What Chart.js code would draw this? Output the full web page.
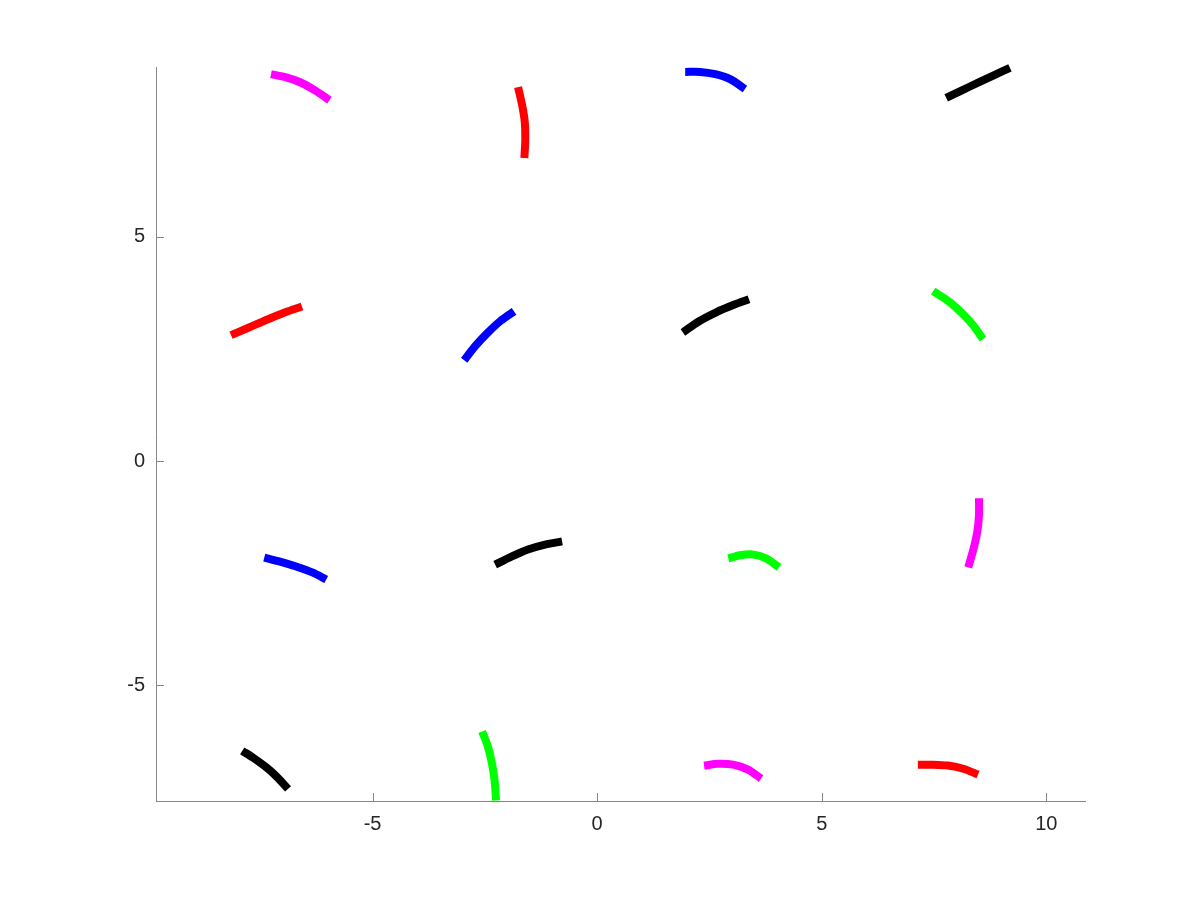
<!DOCTYPE html>
<html lang="en">
<head>
    <meta charset="UTF-8">
    <title>Arcs</title>
    <style>
        body {
            margin: 0;
            background-color: #ffffff;
        }
        .chart-wrapper {
            width: 1200px;
            height: 900px;
        }
    </style>
</head>
<body>
    <div class="chart-wrapper">
        <canvas id="arcChart" width="1200" height="900"></canvas>
    </div>

    <script src="https://cdn.jsdelivr.net/npm/chart.js"></script>
    <script>
        // Arc colours, one per curve
        const arcColors = [
            '#ff00ff', '#ff0000', '#0000ff', '#000000',
            '#ff0000', '#0000ff', '#000000', '#00ff00',
            '#0000ff', '#000000', '#00ff00', '#ff00ff',
            '#000000', '#00ff00', '#ff00ff', '#ff0000'
        ];

        // x values of the points along each arc
        const arcX = [
            [-7.26, -6.92, -6.61, -6.28, -5.96],
            [-1.76, -1.67, -1.61, -1.60, -1.62],
            [1.96, 2.29, 2.63, 2.96, 3.29],
            [7.77, 8.12, 8.48, 8.84, 9.19],
            [-8.15, -7.75, -7.34, -6.94, -6.57],
            [-2.96, -2.72, -2.45, -2.16, -1.85],
            [1.91, 2.27, 2.65, 3.03, 3.38],
            [7.48, 7.83, 8.12, 8.37, 8.59],
            [-7.41, -7.06, -6.70, -6.34, -6.03],
            [-2.27, -1.91, -1.54, -1.16, -0.78],
            [2.92, 3.18, 3.45, 3.76, 4.05],
            [8.50, 8.50, 8.46, 8.37, 8.26],
            [-7.90, -7.65, -7.39, -7.13, -6.88],
            [-2.56, -2.43, -2.34, -2.28, -2.25],
            [2.38, 2.69, 3.03, 3.36, 3.65],
            [7.14, 7.48, 7.81, 8.15, 8.48]
        ];

        // y values of the points along each arc
        const arcY = [
            [8.63, 8.56, 8.45, 8.27, 8.05],
            [8.34, 7.94, 7.55, 7.15, 6.76],
            [8.68, 8.68, 8.63, 8.52, 8.30],
            [8.10, 8.27, 8.44, 8.61, 8.77],
            [2.81, 2.98, 3.16, 3.32, 3.45],
            [2.25, 2.56, 2.85, 3.12, 3.34],
            [2.87, 3.12, 3.32, 3.48, 3.61],
            [3.79, 3.56, 3.30, 3.03, 2.72],
            [-2.15, -2.24, -2.35, -2.48, -2.64],
            [-2.31, -2.13, -1.97, -1.86, -1.79],
            [-2.17, -2.10, -2.08, -2.17, -2.37],
            [-0.83, -1.21, -1.59, -1.99, -2.37],
            [-6.46, -6.62, -6.81, -7.04, -7.31],
            [-6.03, -6.37, -6.75, -7.15, -7.57],
            [-6.79, -6.75, -6.77, -6.88, -7.08],
            [-6.77, -6.77, -6.79, -6.86, -6.99]
        ];

        // tick labels
        const xTickValues = [-5, 0, 5, 10];
        const yTickValues = [-5, 0, 5];

        const axisColor = '#888888';

        const datasets = arcX.map((xs, i) => ({
            data: xs.map((x, j) => ({ x: x, y: arcY[i][j] })),
            borderColor: arcColors[i],
            borderWidth: 8,
            borderCapStyle: 'butt',
            pointRadius: 0,
            showLine: true,
            tension: 0.3,
            fill: false,
            clip: 4
        }));

        // ticks point into the plot area, so draw them by hand
        const innerTicks = {
            id: 'innerTicks',
            afterDraw(chart) {
                const ctx = chart.ctx;
                const xs = chart.scales.x;
                const ys = chart.scales.y;
                const area = chart.chartArea;
                ctx.save();
                ctx.strokeStyle = axisColor;
                ctx.lineWidth = 1;
                ctx.beginPath();
                xTickValues.forEach(v => {
                    const px = Math.round(xs.getPixelForValue(v)) + 0.5;
                    ctx.moveTo(px, area.bottom);
                    ctx.lineTo(px, area.bottom - 8);
                });
                yTickValues.forEach(v => {
                    const py = Math.round(ys.getPixelForValue(v)) + 0.5;
                    ctx.moveTo(area.left, py);
                    ctx.lineTo(area.left + 8, py);
                });
                ctx.stroke();
                ctx.restore();
            }
        };

        const ctx = document.getElementById('arcChart').getContext('2d');
        new Chart(ctx, {
            type: 'scatter',
            data: { datasets: datasets },
            options: {
                responsive: false,
                animation: false,
                layout: {
                    padding: { left: 0, right: 115, top: 67, bottom: 0 }
                },
                plugins: {
                    legend: { display: false },
                    tooltip: { enabled: false }
                },
                scales: {
                    x: {
                        type: 'linear',
                        min: -9.82,
                        max: 10.86,
                        afterBuildTicks: s => { s.ticks = xTickValues.map(v => ({ value: v })); },
                        afterFit: s => { s.height = 99; },
                        grid: { display: false, drawTicks: false },
                        border: { display: true, color: axisColor, width: 1 },
                        ticks: {
                            padding: 11,
                            color: '#262626',
                            font: { family: '"Liberation Sans", Arial, sans-serif', size: 20 }
                        }
                    },
                    y: {
                        type: 'linear',
                        min: -7.58,
                        max: 8.79,
                        afterBuildTicks: s => { s.ticks = yTickValues.map(v => ({ value: v })); },
                        afterFit: s => { s.width = 156; },
                        grid: { display: false, drawTicks: false },
                        border: { display: true, color: axisColor, width: 1 },
                        ticks: {
                            padding: 11,
                            color: '#262626',
                            font: { family: '"Liberation Sans", Arial, sans-serif', size: 20 }
                        }
                    }
                }
            },
            plugins: [innerTicks]
        });
    </script>
</body>
</html>
